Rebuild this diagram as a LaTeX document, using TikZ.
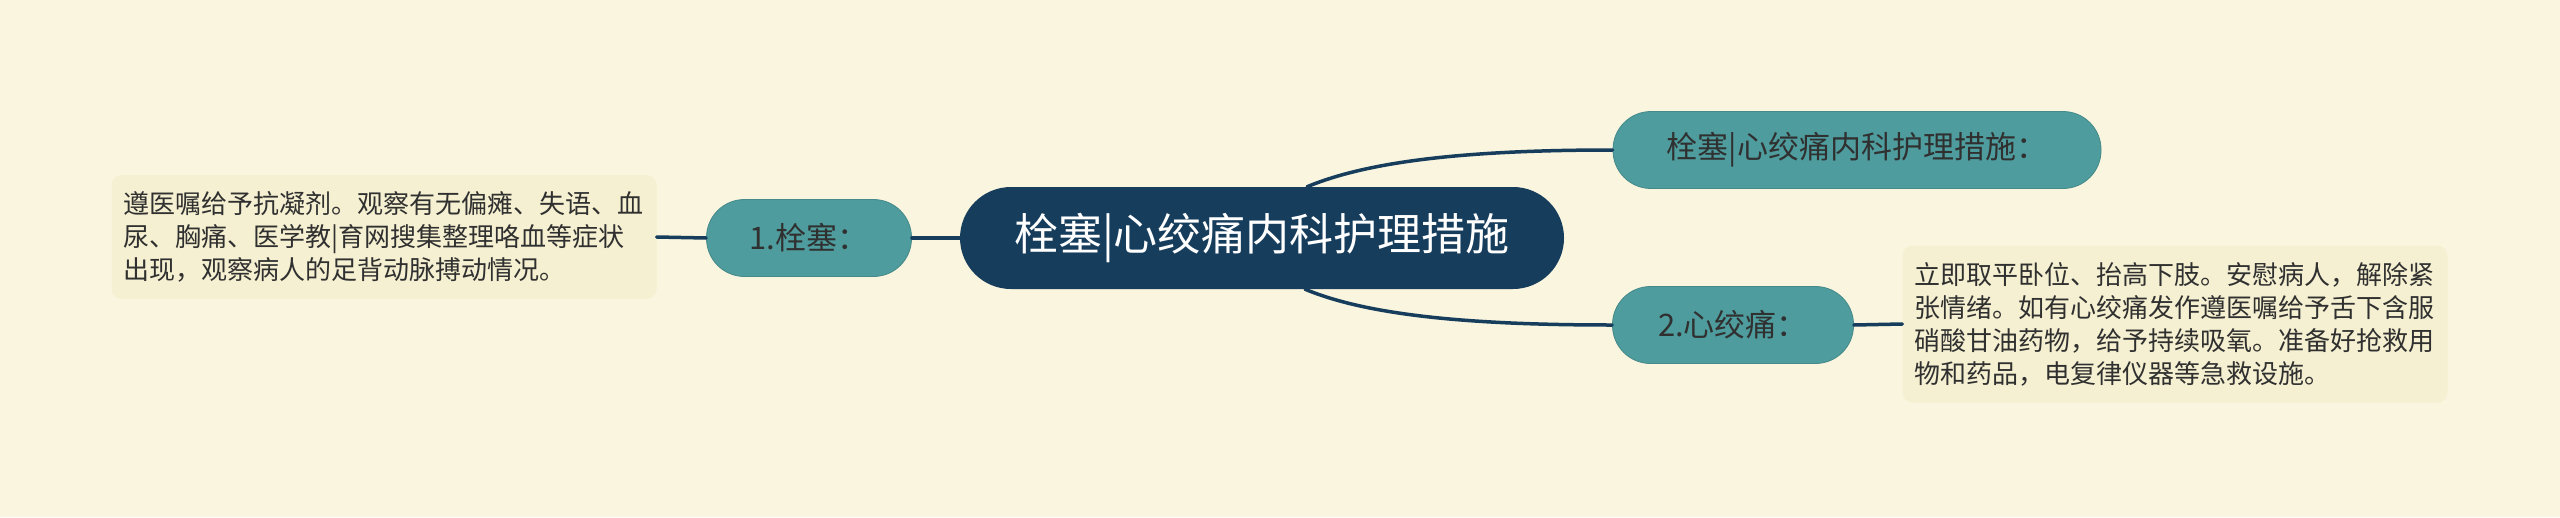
\documentclass[tikz,border=0pt]{standalone}
\usepackage{fontspec}
\setmainfont{Noto Sans CJK SC}
\definecolor{bgcream}{RGB}{250,245,223}
\definecolor{rootnavy}{RGB}{23,61,92}
\definecolor{branchteal}{RGB}{78,156,157}
\definecolor{notefill}{RGB}{245,240,209}
\definecolor{inkgray}{RGB}{48,48,48}

\begin{document}
\begin{tikzpicture}[x=1pt, y=1pt, line cap=round,
	link/.style={draw=rootnavy, line width=3.5pt},
	rootbox/.style={fill=rootnavy, text=white, rounded corners=51pt, minimum width=604pt, minimum height=102pt, inner sep=0pt, font=\fontsize{44}{50}\selectfont},
	branchbox/.style={fill=branchteal, draw=branchteal!88!black, line width=0.8pt, text=inkgray, rounded corners=38pt, minimum height=77pt, inner sep=0pt, font=\fontsize{31}{36}\selectfont},
	notebox/.style={fill=notefill, text=inkgray, rounded corners=10pt, text width=521pt, align=left, inner xsep=12pt, inner ysep=10pt, font=\fontsize{26}{33}\selectfont}]
		% canvas
		\fill[bgcream] (0,0) rectangle (2560,-517);
		\useasboundingbox (0,0) rectangle (2560,-517);
		
		% nodes
		\node[rootbox] (root) at (1262,-238) {栓塞|心绞痛内科护理措施};
		\node[branchbox, minimum width=205pt] (embol) at (809,-238) {1.栓塞：};
		\node[branchbox, minimum width=488pt] (topic) at (1857,-150) {栓塞|心绞痛内科护理措施：};
		\node[branchbox, minimum width=241pt] (angina) at (1733,-325) {2.心绞痛：};
		\node[notebox, minimum height=124pt] (embolnote) at (384,-237) {遵医嘱给予抗凝剂。观察有无偏瘫、失语、血\\尿、胸痛、医学教|育网搜集整理咯血等症状\\出现，观察病人的足背动脉搏动情况。};
		\node[notebox, minimum height=157pt] (anginanote) at (2175,-324) {立即取平卧位、抬高下肢。安慰病人，解除紧\\张情绪。如有心绞痛发作遵医嘱给予舌下含服\\硝酸甘油药物，给予持续吸氧。准备好抢救用\\物和药品，电复律仪器等急救设施。};
		
		% links
		\draw[link] (root.west) -- (embol.east);
		\draw[link] (embol.west) -- (embolnote.east);
		\draw[link] ([xshift=45pt]root.north) .. controls +(60,25) and +(-150,0) .. (topic.west);
		\draw[link] ([xshift=43pt]root.south) .. controls +(60,-25) and +(-150,0) .. (angina.west);
		\draw[link] (angina.east) -- (anginanote.west);
\end{tikzpicture}
\end{document}
